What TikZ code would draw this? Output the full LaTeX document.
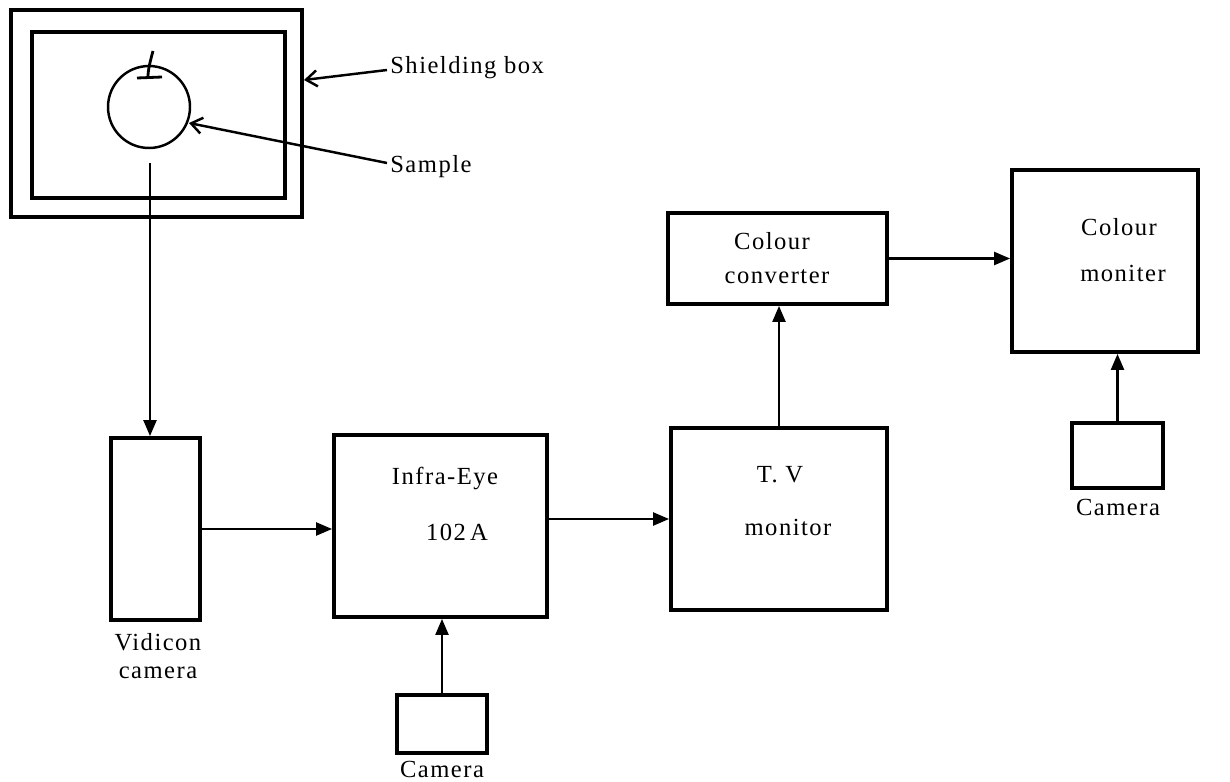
\documentclass[tikz,border=0pt]{standalone}
\usepackage{fontspec}
\setmainfont{Liberation Serif}[LetterSpace=6]
\usepackage{tikz}
\usetikzlibrary{arrows.meta,positioning}

\begin{document}
\begin{tikzpicture}[x=0.02cm,y=-0.02cm,
  blk/.style={draw,line width=2.2pt,minimum width=#1,inner sep=0pt},
  lbl/.style={inner sep=0pt,font=\fontsize{14}{17}\selectfont},
  flow/.style={line width=1.3pt,-{Triangle[length=0.32cm,width=0.26cm]}},
  pointer/.style={line width=1.4pt,-{Straight Barb[length=0.22cm,width=0.32cm]}}]
  \useasboundingbox (0,0) rectangle (1230,781);
  % shielding box with the sample
  \node[blk=5.82cm,minimum height=4.14cm] (shield) at (156.5,113.5) {};
  \node[blk=5.06cm,minimum height=3.32cm] (inner) at (158.5,115) {};
  \node[draw,circle,line width=1.4pt,minimum size=1.64cm,inner sep=0pt] (apple) at (149,107) {};
  \draw[line width=1.6pt] (153,51) .. controls (150,62) and (148,70) .. (148,77);
  \draw[line width=1.6pt] (137,78) -- (162,77);
  \node[lbl,anchor=west] (shieldtxt) at (390,68) {Shielding box};
  \node[lbl,anchor=west] (sampletxt) at (390,167) {Sample};
  \draw[pointer] (shieldtxt.west) ++(-3,2) -- (304,80);
  \draw[pointer] (sampletxt.west) ++(-3,-4) -- (189,123);
  % blocks
  \node[blk=1.78cm,minimum height=3.64cm] (vid) at (155.5,529) {};
  \node[blk=4.26cm,minimum height=3.64cm] (infra) at (440.5,526) {};
  \node[blk=1.8cm,minimum height=1.16cm] (cam1) at (442,724) {};
  \node[blk=4.32cm,minimum height=3.64cm] (tv) at (779,519) {};
  \node[blk=4.38cm,minimum height=1.82cm] (conv) at (777.5,258.5) {};
  \node[blk=3.72cm,minimum height=3.64cm] (mon) at (1105,261) {};
  \node[blk=1.82cm,minimum height=1.3cm] (cam2) at (1117.5,455.5) {};
  % texts
  \node[lbl] (vid1) at (158,642) {Vidicon};
  \node[lbl] (vid2) at (158,673) {camera};
  \node[lbl] (inf1) at (445,478) {Infra-Eye};
  \node[lbl] (inf2) at (457,532) {102\,A};
  \node[lbl] (cam1txt) at (442,769) {Camera};
  \node[lbl] (tv1) at (780,475) {T. V};
  \node[lbl] (tv2) at (788,527) {monitor};
  \node[lbl] (conv1) at (772,241) {Colour};
  \node[lbl] (conv2) at (777,277) {converter};
  \node[lbl] (mon1) at (1119,227) {Colour};
  \node[lbl] (mon2) at (1123,273) {moniter};
  \node[lbl] (cam2txt) at (1118,507) {Camera};
  % connectors
  \coordinate (drop) at (150,163);
  \draw[flow] (drop) -- (drop |- vid.north);
  \draw[flow] (vid.east) -- (vid.east -| infra.west);
  \draw[flow] (cam1.north) -- (cam1.north |- infra.south);
  \draw[flow] (infra.east |- tv.west) -- (tv.west);
  \draw[flow] (tv.north) -- (tv.north |- conv.south);
  \draw[flow] (conv.east) -- (conv.east -| mon.west);
  \draw[flow] (cam2.north) -- (cam2.north |- mon.south);
\end{tikzpicture}
\end{document}
